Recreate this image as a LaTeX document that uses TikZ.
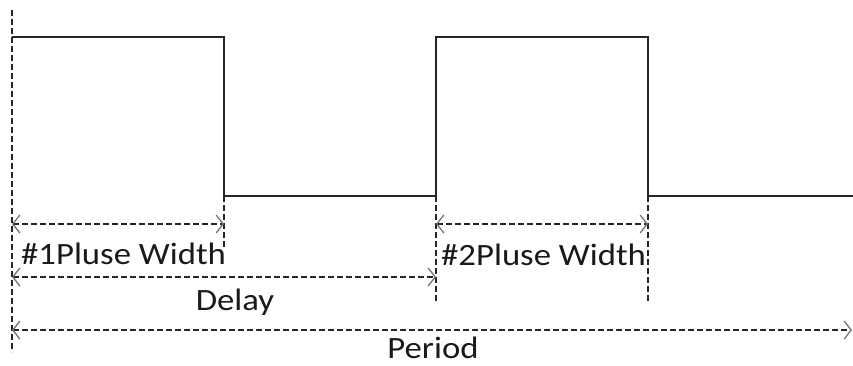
\documentclass[tikz,border=0pt]{standalone}
\usepackage{fontspec}
\setmainfont{Carlito}[FakeStretch=1.12]
\usetikzlibrary{arrows.meta}
\begin{document}
\begin{tikzpicture}[x=1pt,y=-1pt,
  sig/.style={line width=1.5pt,black!85},
  guide/.style={line width=1.4pt,black!85,dash pattern=on 6pt off 3pt},
  dim/.style={guide,{Straight Barb[length=7pt,width=18pt,line width=1.3pt,color=black!55]}-{Straight Barb[length=7pt,width=18pt,line width=1.3pt,color=black!55]}},
  lbl/.style={font=\fontsize{31}{31}\selectfont,text=black!90,inner sep=0pt,anchor=base west}]
\useasboundingbox (0,0) rectangle (853,365);
% signal corners
\coordinate (s0) at (12,37);
\coordinate (a1) at (224,37);
\coordinate (a2) at (224,196);
\coordinate (b1) at (436,196);
\coordinate (b2) at (436,37);
\coordinate (c1) at (648,37);
\coordinate (c2) at (648,196);
\coordinate (e) at (853,196);
\draw[sig] (s0) -- (a1) -- (a2) -- (b1) -- (b2) -- (c1) -- (c2) -- (e);
% guides
\coordinate (g0t) at (12,10);
\coordinate (g0b) at (12,352);
\coordinate (g1b) at (224,250);
\coordinate (g2b) at (436,303);
\coordinate (g3b) at (648,303);
\draw[guide] (g0t) -- (g0b);
\draw[guide] (a2) -- (g1b);
\draw[guide] (b1) -- (g2b);
\draw[guide] (c2) -- (g3b);
% dimension lines
\coordinate (p1l) at (12,224);
\coordinate (p1r) at (224,224);
\coordinate (p2l) at (436,224);
\coordinate (p2r) at (648,224);
\coordinate (dl) at (12,277);
\coordinate (dr) at (436,277);
\coordinate (pl) at (12,330);
\coordinate (pr) at (852,330);
\draw[dim] (p1l) -- (p1r);
\draw[dim] (p2l) -- (p2r);
\draw[dim] (dl) -- (dr);
\draw[dim] (pl) -- (pr);
% labels
\node[lbl] (w1) at (21,264) {\#1Pluse Width};
\node[lbl] (w2) at (441,265) {\#2Pluse Width};
\node[lbl,anchor=base] (dly) at (235,310) {Delay};
\node[lbl,anchor=base] (per) at (433,358) {Period};
\end{tikzpicture}
\end{document}
